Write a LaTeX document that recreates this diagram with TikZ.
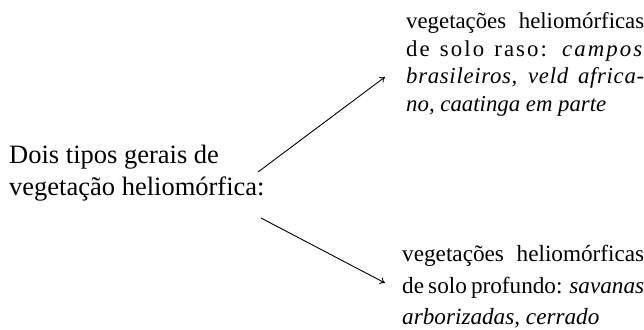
\documentclass[tikz,border=0pt]{standalone}
\usepackage{fontspec}
\setmainfont{Liberation Serif}
\usetikzlibrary{arrows.meta}
\begin{document}
\begin{tikzpicture}[x=1pt,y=1pt,
  lefttext/.style={anchor=north west,inner sep=0pt,align=left,font=\fontsize{26.5}{32}\selectfont},
  toptext/.style={anchor=north west,inner sep=0pt,text width=238pt,align=justify,font=\fontsize{22.8}{27.5}\selectfont},
  bottext/.style={anchor=north west,inner sep=0pt,text width=242pt,align=justify,font=\fontsize{23.2}{31.5}\selectfont},
  conn/.style={line width=0.9pt,-{To[length=5pt,width=7pt]}}]
\useasboundingbox (0,0) rectangle (644,-329);
\node[lefttext] (src) at (9,-145) {Dois tipos gerais de\\vegetação heliomórfica:};
\node[toptext] (top) at (406,-12.3) {vegetações heliomórficas\linebreak {\addfontfeature{LetterSpace=9}de solo raso: \textit{campos}}\linebreak {\addfontfeature{LetterSpace=3}\textit{brasileiros, veld africa-}}\linebreak \textit{no, caatinga em parte}};
\node[bottext] (bot) at (402,-245) {vegetações heliomórficas\linebreak de solo profundo: \textit{savanas}\linebreak \textit{arborizadas, cerrado}};
\coordinate (s1) at (258,-172);
\coordinate (t1) at (385,-77);
\coordinate (s2) at (261,-218);
\coordinate (t2) at (385,-283);
\draw[conn] (s1) -- (t1);
\draw[conn] (s2) -- (t2);
\end{tikzpicture}
\end{document}
